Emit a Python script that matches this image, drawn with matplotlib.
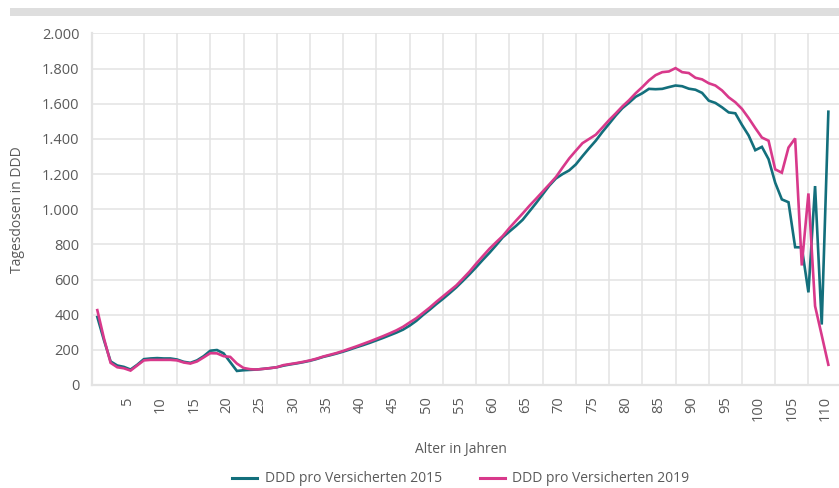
import matplotlib
matplotlib.use("Agg")
import matplotlib.pyplot as plt
from matplotlib.patches import Rectangle
from matplotlib.ticker import FixedLocator, FuncFormatter

# ---------------- data ----------------
ages = list(range(0, 111))

ddd_2015 = [
    387, 255, 134, 111, 103, 88, 115, 147, 151, 153,      # 0-9
    151, 151, 145, 132, 126, 140, 164, 195, 199, 180,     # 10-19
    130, 80, 84, 86, 88, 92, 96, 101, 110, 117,           # 20-29
    123, 130, 138, 148, 160, 169, 179, 190, 202, 215,     # 30-39
    227, 240, 254, 268, 283, 298, 315, 338, 365, 398,     # 40-49
    428, 460, 490, 522, 555, 592, 630, 670, 712, 752,     # 50-59
    795, 840, 873, 905, 940, 987, 1034, 1084, 1134, 1175, # 60-69
    1200, 1221, 1255, 1302, 1347, 1390, 1440, 1486, 1533, 1575,  # 70-79
    1606, 1640, 1660, 1685, 1683, 1685, 1695, 1704, 1700, 1686,  # 80-89
    1680, 1662, 1618, 1605, 1580, 1551, 1546, 1480, 1420, 1336,  # 90-99
    1355, 1285, 1151, 1056, 1040, 784, 783, 527, 1132, 344,      # 100-109
    1555,                                                        # 110
]

ddd_2019 = [
    426, 265, 126, 101, 95, 82, 111, 140, 143, 143,       # 0-9
    143, 143, 140, 128, 122, 134, 157, 181, 180, 164,     # 10-19
    160, 122, 97, 90, 88, 92, 96, 101, 113, 119,          # 20-29
    125, 132, 140, 150, 162, 172, 182, 194, 207, 220,     # 30-39
    234, 248, 263, 278, 294, 311, 331, 356, 380, 410,     # 40-49
    440, 473, 504, 535, 566, 605, 645, 690, 733, 775,     # 50-59
    812, 848, 893, 935, 976, 1019, 1059, 1100, 1141, 1183,  # 60-69
    1237, 1289, 1333, 1376, 1400, 1424, 1465, 1507, 1545, 1585,  # 70-79
    1620, 1660, 1695, 1733, 1763, 1780, 1784, 1803, 1780, 1775,  # 80-89
    1748, 1739, 1717, 1704, 1676, 1637, 1609, 1571, 1519, 1462,  # 90-99
    1408, 1390, 1227, 1208, 1351, 1403, 680, 1090, 449, 283,     # 100-109
    115,                                                         # 110
]

series_labels = ["DDD pro Versicherten 2015", "DDD pro Versicherten 2019"]
series_colors = ["#136f7c", "#d8398b"]

x_tick_values = list(range(5, 111, 5))
y_tick_values = list(range(0, 2001, 200))

# ---------------- style ----------------
FONT = ["Open Sans", "DejaVu Sans"]
TXT = "#5a5a5a"
GRID = "#e3e3e3"
plt.rcParams["font.family"] = FONT

W, H = 839, 488
fig = plt.figure(figsize=(W / 100, H / 100), dpi=100)

# gray bar at top
fig.patches.append(Rectangle((10 / W, 1 - 15.5 / H), 1 - 10 / W, 7.5 / H,
                             transform=fig.transFigure, facecolor="#dedede",
                             edgecolor="none"))

ax_l, ax_r, ax_t, ax_b = 92, 839, 33.5, 385
ax = fig.add_axes([ax_l / W, 1 - ax_b / H, (ax_r - ax_l) / W, (ax_b - ax_t) / H])

ax.plot(ages, ddd_2015, color=series_colors[0], lw=1.9, label=series_labels[0],
        solid_joinstyle="miter", zorder=3)
ax.plot(ages, ddd_2019, color=series_colors[1], lw=1.9, label=series_labels[1],
        solid_joinstyle="miter", zorder=4)

ax.set_xlim(-0.8, 111.6)
ax.set_ylim(0, 2000)

# y axis
ax.yaxis.set_major_locator(FixedLocator(y_tick_values))
ax.yaxis.set_major_formatter(FuncFormatter(lambda v, p: f"{int(v):,}".replace(",", ".")))
ax.tick_params(axis="y", length=0, pad=9, labelsize=10.5, labelcolor=TXT)
ax.grid(axis="y", color=GRID, lw=1.1)

# x axis: labels every 5 years, vertical grid every 5 categories
ax.xaxis.set_major_locator(FixedLocator([v - 0.5 for v in x_tick_values]))
ax.xaxis.set_major_formatter(FuncFormatter(
    lambda v, p: str(x_tick_values[p]) if p is not None and p < len(x_tick_values) else ""))
ax.xaxis.set_minor_locator(FixedLocator(list(range(7, 111, 5))))
ax.tick_params(axis="x", which="major", length=0, pad=8, labelsize=10.5,
               labelcolor=TXT, labelrotation=90)
ax.tick_params(axis="x", which="minor", length=0)
ax.grid(axis="x", which="minor", color=GRID, lw=1.1)
ax.grid(axis="x", which="major", visible=False)
ax.set_axisbelow(True)

for s in ["top", "right"]:
    ax.spines[s].set_visible(False)
for s in ["left", "bottom"]:
    ax.spines[s].set_color(GRID)
    ax.spines[s].set_linewidth(1.6)

fig.text(18 / W, 1 - 210 / H, "Tagesdosen in DDD", rotation=90, ha="center",
         va="center", fontsize=10, color=TXT)
fig.text(461 / W, 1 - 449 / H, "Alter in Jahren", ha="center", va="center",
         fontsize=10, color=TXT)

leg = fig.legend(loc="center", bbox_to_anchor=(461 / W, 1 - 479 / H), ncol=2,
                 frameon=False, fontsize=10, handlelength=1.8, handletextpad=0.55,
                 columnspacing=2.7, labelcolor=TXT)
for h in leg.legend_handles:
    h.set_linewidth(2.2)

fig.savefig("out.png", dpi=100)
